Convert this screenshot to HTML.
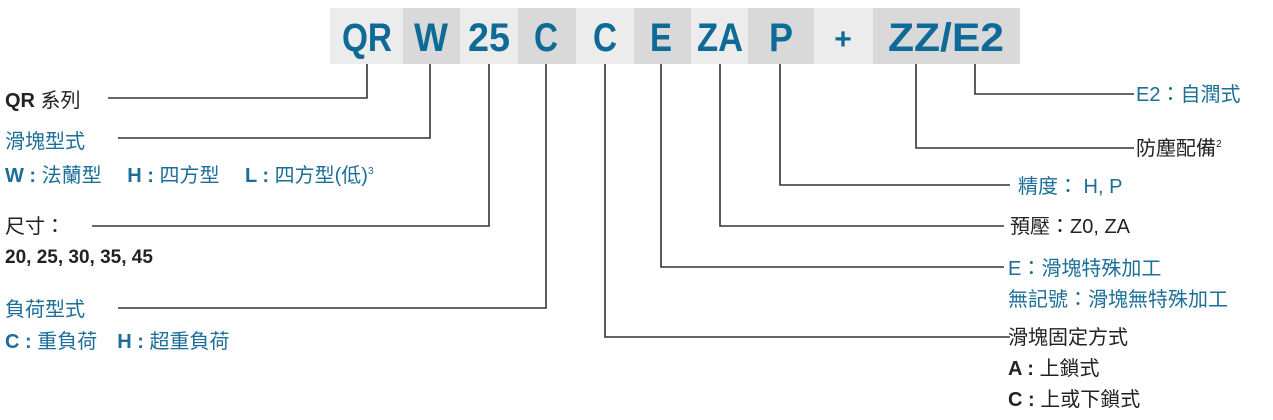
<!DOCTYPE html>
<html><head><meta charset="utf-8"><style>
html,body{margin:0;padding:0;background:#fff;}
svg{display:block;}
text{font-family:"Liberation Sans","Noto Sans CJK TC",sans-serif;font-size:20px;}
.b{fill:#1b6e98;}
.k{fill:#222;}
.big{font-size:40px;fill:#0e6a96;font-weight:bold;}
.l{font-weight:bold;}
</style></head><body>
<svg width="1273" height="420" viewBox="0 0 1273 420">
<g>
<rect x="330" y="8" width="73" height="56" fill="#ececec"/>
<rect x="403" y="8" width="57" height="56" fill="#d9d9d9"/>
<rect x="460" y="8" width="58" height="56" fill="#ececec"/>
<rect x="518" y="8" width="58" height="56" fill="#d9d9d9"/>
<rect x="576" y="8" width="58" height="56" fill="#ececec"/>
<rect x="634" y="8" width="57" height="56" fill="#d9d9d9"/>
<rect x="691" y="8" width="57" height="56" fill="#ececec"/>
<rect x="748" y="8" width="66" height="56" fill="#d9d9d9"/>
<rect x="814" y="8" width="59" height="56" fill="#ececec"/>
<rect x="873" y="8" width="147" height="56" fill="#d9d9d9"/>
</g>
<g class="big" text-anchor="middle">
<text class="big" x="367" y="51" textLength="50" lengthAdjust="spacingAndGlyphs">QR</text>
<text class="big" x="431" y="51" textLength="34" lengthAdjust="spacingAndGlyphs">W</text>
<text class="big" x="489" y="51" textLength="42" lengthAdjust="spacingAndGlyphs">25</text>
<text class="big" x="546" y="51" textLength="24" lengthAdjust="spacingAndGlyphs">C</text>
<text class="big" x="605" y="51" textLength="24" lengthAdjust="spacingAndGlyphs">C</text>
<text class="big" x="661" y="51" textLength="22" lengthAdjust="spacingAndGlyphs">E</text>
<text class="big" x="720" y="51" textLength="46" lengthAdjust="spacingAndGlyphs">ZA</text>
<text class="big" x="781" y="51" textLength="24" lengthAdjust="spacingAndGlyphs">P</text>
<text class="big" x="843" y="49" style="font-size:30px">+</text>
<text class="big" x="946" y="51" textLength="116" lengthAdjust="spacingAndGlyphs">ZZ/E2</text>
</g>
<g stroke="#333" stroke-width="1.6" fill="none">
<polyline points="367,64 367,98 108,98"/>
<polyline points="430,64 430,138 118,138"/>
<polyline points="489,64 489,226 92,226"/>
<polyline points="546,64 546,308 118,308"/>
<polyline points="605,64 605,337 1010,337"/>
<polyline points="661,64 661,267 1004,267"/>
<polyline points="720,64 720,226 1004,226"/>
<polyline points="780,64 780,185 1010,185"/>
<polyline points="916,64 916,148 1134,148"/>
<polyline points="975,64 975,94 1134,94"/>
</g>
<text class="k" x="5" y="107"><tspan class="l">QR</tspan> 系列</text>
<text class="b" x="5" y="148">滑塊型式</text>
<text class="b" x="5" y="182"><tspan class="l">W :</tspan> 法蘭型　 <tspan class="l">H :</tspan> 四方型　 <tspan class="l">L :</tspan> 四方型(低)<tspan font-size="10" dy="-8">3</tspan></text>
<text class="k" x="5" y="233">尺寸：</text>
<text class="k l" x="5" y="263" style="font-size:19px">20, 25, 30, 35, 45</text>
<text class="b" x="5" y="316">負荷型式</text>
<text class="b" x="5" y="348"><tspan class="l">C :</tspan> 重負荷　<tspan class="l">H :</tspan> 超重負荷</text>
<text class="b" x="1136" y="101">E2：自潤式</text>
<text class="k" x="1136" y="155">防塵配備<tspan font-size="10" dy="-8">2</tspan></text>
<text class="b" x="1018" y="193">精度： H, P</text>
<text class="k" x="1010" y="233">預壓：Z0, ZA</text>
<text class="b" x="1008" y="275">E：滑塊特殊加工</text>
<text class="b" x="1008" y="306">無記號：滑塊無特殊加工</text>
<text class="k" x="1008" y="344">滑塊固定方式</text>
<text class="k" x="1008" y="375"><tspan class="l">A :</tspan> 上鎖式</text>
<text class="k" x="1008" y="406"><tspan class="l">C :</tspan> 上或下鎖式</text>
</svg>
</body></html>
